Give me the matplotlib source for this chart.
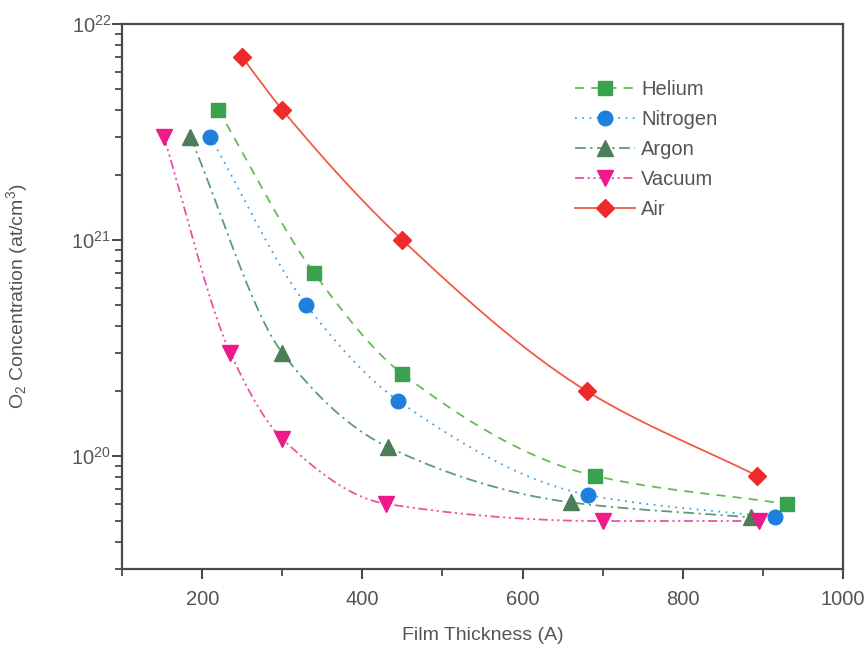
import matplotlib
matplotlib.use("Agg")
import matplotlib.pyplot as plt
import numpy as np
from matplotlib.ticker import LogLocator, MultipleLocator

plt.rcParams["font.family"] = ["Liberation Sans", "DejaVu Sans"]
plt.rcParams["mathtext.fontset"] = "custom"
plt.rcParams["mathtext.rm"] = "Liberation Sans"
plt.rcParams["mathtext.it"] = "Liberation Sans"

# film thickness (A) and O2 concentration (at/cm^3) per anneal atmosphere
helium_x = [220, 340, 450, 690, 930]
helium_y = [4.0e21, 7.0e20, 2.4e20, 8.1e19, 6.0e19]

nitrogen_x = [210, 330, 445, 682, 915]
nitrogen_y = [3.0e21, 5.0e20, 1.8e20, 6.6e19, 5.2e19]

argon_x = [185, 300, 432, 660, 885]
argon_y = [3.0e21, 3.0e20, 1.1e20, 6.1e19, 5.2e19]

vacuum_x = [152, 235, 300, 430, 700, 895]
vacuum_y = [3.0e21, 3.0e20, 1.2e20, 6.0e19, 5.0e19, 5.0e19]

air_x = [250, 300, 450, 680, 893]
air_y = [7.0e21, 4.0e21, 1.0e21, 2.0e20, 8.1e19]


def pchip(x, y, xs):
    # monotone cubic (Fritsch-Carlson) through the measured points
    x = np.asarray(x, float)
    y = np.asarray(y, float)
    h = np.diff(x)
    d = np.diff(y) / h
    m = np.zeros_like(y)
    for k in range(1, len(y) - 1):
        if d[k - 1] * d[k] > 0:
            w1 = 2 * h[k] + h[k - 1]
            w2 = h[k] + 2 * h[k - 1]
            m[k] = (w1 + w2) / (w1 / d[k - 1] + w2 / d[k])
    m[0] = d[0]
    m[-1] = d[-1]
    idx = np.clip(np.searchsorted(x, xs) - 1, 0, len(h) - 1)
    t = (xs - x[idx]) / h[idx]
    h00 = 2 * t**3 - 3 * t**2 + 1
    h10 = t**3 - 2 * t**2 + t
    h01 = -2 * t**3 + 3 * t**2
    h11 = t**3 - t**2
    return (h00 * y[idx] + h10 * h[idx] * m[idx]
            + h01 * y[idx + 1] + h11 * h[idx] * m[idx + 1])


def smooth(x, y):
    xs = np.linspace(x[0], x[-1], 300)
    ys = 10 ** pchip(x, np.log10(y), xs)
    return xs, ys


series = [
    ("Helium", helium_x, helium_y, "s", "#3aa24e", "#66bb55", (0, (5, 4)), 9.5),
    ("Nitrogen", nitrogen_x, nitrogen_y, "o", "#1e7fdc", "#3ea0ea", (0, (1, 3)), 10.5),
    ("Argon", argon_x, argon_y, "^", "#4b7d58", "#5c9c74", (0, (6, 2.5, 1.2, 2.5)), 11),
    ("Vacuum", vacuum_x, vacuum_y, "v", "#ee1a8c", "#f04fa6", (0, (5, 2, 1.2, 2, 1.2, 2)), 11),
    ("Air", air_x, air_y, "D", "#ee2a2a", "#f05a46", "-", 9),
]

fig = plt.figure(figsize=(8.67, 6.48), dpi=100)
ax = fig.add_axes([0.141, 0.122, 0.831, 0.841])

for name, x, y, mk, mcol, lcol, ls, ms in series:
    xs, ys = smooth(x, y)
    ax.plot(xs, ys, color=lcol, linestyle=ls, linewidth=1.3, zorder=2)
    ax.plot(x, y, linestyle="none", marker=mk, markersize=ms, color=mcol,
            markeredgecolor=mcol, zorder=3)
    # legend proxy: line with marker in the middle
    ax.plot([], [], color=lcol, linestyle=ls, linewidth=1.3, marker=mk,
            markersize=ms, markerfacecolor=mcol, markeredgecolor=mcol, label=name)

ax.set_yscale("log")
ax.set_xlim(100, 1000)
ax.set_ylim(3e19, 1e22)
ax.xaxis.set_major_locator(MultipleLocator(200))
ax.xaxis.set_minor_locator(MultipleLocator(100))
ax.yaxis.set_major_locator(LogLocator(base=10))
ax.yaxis.set_minor_locator(LogLocator(base=10, subs=np.arange(2, 10)))

spine_col = "#4a4a4a"
for s in ax.spines.values():
    s.set_color(spine_col)
    s.set_linewidth(1.6)
ax.tick_params(axis="both", which="major", direction="out", length=7, width=1.5,
               color=spine_col, labelcolor="#555555", labelsize=14.5)
ax.tick_params(axis="y", which="major", pad=1)
ax.tick_params(axis="both", which="minor", direction="out", length=5, width=1.3,
               color=spine_col)
ax.tick_params(axis="x", which="major", pad=8)

ax.set_xlabel("Film Thickness (A)", fontsize=14, color="#555555", labelpad=13)
ax.set_ylabel("O$_2$ Concentration (at/cm$^3$)", fontsize=14, color="#555555",
              labelpad=30)

leg = ax.legend(loc="upper left", bbox_to_anchor=(0.628, 0.898), frameon=False,
                fontsize=14.5, handlelength=3.0, handletextpad=0.3,
                labelspacing=0.55, borderaxespad=0, borderpad=0)
for t in leg.get_texts():
    t.set_color("#555555")

fig.savefig("out.png", dpi=100)
